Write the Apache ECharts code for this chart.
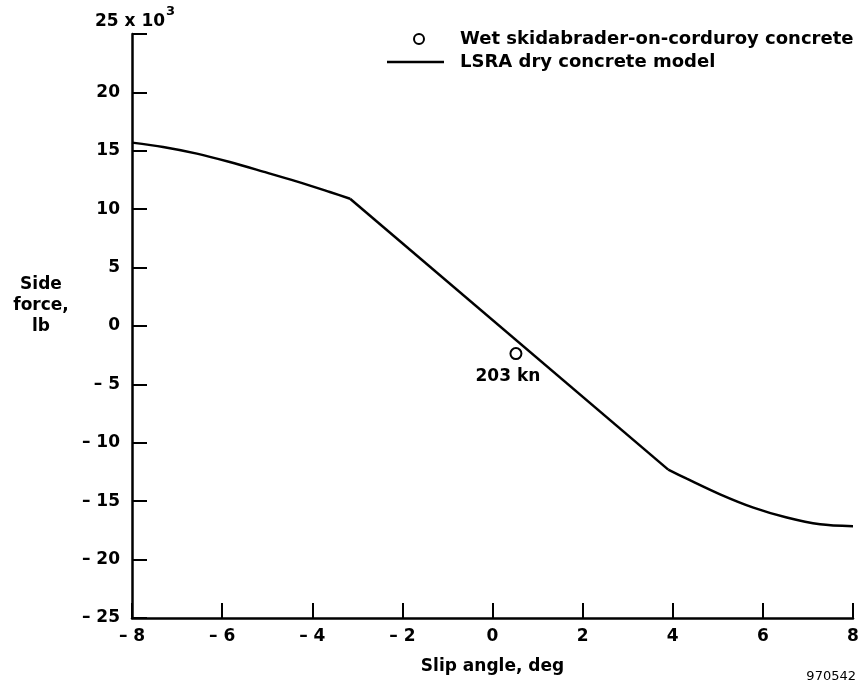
<!DOCTYPE html>
<html><head><meta charset="utf-8">
<script src="https://cdn.jsdelivr.net/npm/echarts@6/dist/echarts.min.js"></script>
<style>html,body{margin:0;padding:0;background:#fff}#c{width:864px;height:688px}</style>
</head><body><div id="c"></div>
<script>
// LSRA dry concrete model (slip angle deg, side force x10^3 lb)
const modelX = [-8, -7.31, -6.56, -5.83, -5.09, -4.35, -3.61, -3.16, 3.9, 4.31, 5.05, 5.79, 6.53, 7.27, 8];
const modelY = [15.7, 15.33, 14.76, 14.04, 13.22, 12.38, 11.47, 10.9, -12.3, -13.07, -14.41, -15.55, -16.4, -16.98, -17.15];
// Wet skidabrader-on-corduroy concrete
const wetX = [0.52];
const wetY = [-2.36];
const wetLabels = ['203 kn'];
const xTicks = [-8, -6, -4, -2, 0, 2, 4, 6, 8];
const yTicks = [-25, -20, -15, -10, -5, 0, 5, 10, 15, 20, 25];

const FONT = '"DejaVu Sans", sans-serif';
const FS = 17;
const fmt = v => v < 0 ? '\u2013 ' + Math.abs(v) : String(v);
const pts = modelX.map((x, i) => [x, modelY[i]]);
const lineCommon = {type: 'line', showSymbol: false, symbol: 'none', lineStyle: {color: '#000', width: 2.5}, z: 3};

const chart = echarts.init(document.getElementById('c'));
chart.setOption({
  animation: false,
  backgroundColor: '#fff',
  grid: {left: 132, right: 11, top: 34, bottom: 70, containLabel: false},
  xAxis: {
    type: 'value', min: xTicks[0], max: xTicks[xTicks.length-1], interval: 2,
    splitLine: {show: false},
    axisLine: {onZero: false, lineStyle: {color: '#000', width: 2.5}},
    axisTick: {inside: true, length: 15, lineStyle: {color: '#000', width: 2}},
    axisLabel: {color: '#000', fontFamily: FONT, fontWeight: 'bold', fontSize: FS, margin: 10, formatter: fmt},
    name: 'Slip angle, deg', nameLocation: 'middle', nameGap: 40,
    nameTextStyle: {color: '#000', fontFamily: FONT, fontWeight: 'bold', fontSize: FS}
  },
  yAxis: {
    type: 'value', min: yTicks[0], max: yTicks[yTicks.length-1], interval: 5,
    splitLine: {show: false},
    axisLine: {onZero: false, lineStyle: {color: '#000', width: 2.5}},
    axisTick: {inside: true, length: 15, lineStyle: {color: '#000', width: 2}},
    axisLabel: {color: '#000', fontFamily: FONT, fontWeight: 'bold', fontSize: FS, margin: 12,
      formatter: v => v === 25 ? '' : fmt(v)}
  },
  series: [
    Object.assign({}, lineCommon, {data: pts.slice(0, 8), smooth: 0.3}),
    Object.assign({}, lineCommon, {data: pts.slice(7, 9)}),
    Object.assign({}, lineCommon, {data: pts.slice(8), smooth: 0.3}),
    {type: 'scatter', data: wetX.map((x, i) => ({value: [x, wetY[i]], label: {formatter: wetLabels[i]}})),
     symbol: 'circle', symbolSize: 11,
     itemStyle: {color: '#fff', borderColor: '#000', borderWidth: 2, opacity: 1},
     label: {show: true, position: 'bottom', distance: 6, offset: [-8, 2], color: '#000', fontFamily: FONT, fontWeight: 'bold', fontSize: FS},
     z: 4}
  ],
  graphic: [
    {type: 'text', left: 95, top: 5, style: {
      text: '{a|25 x 10}{s|3}',
      rich: {
        a: {fontFamily: FONT, fontWeight: 'bold', fontSize: FS, fill: '#000', padding: [8, 0, 0, 0]},
        s: {fontFamily: FONT, fontWeight: 'bold', fontSize: 13, fill: '#000', verticalAlign: 'top', padding: [0, 0, 0, 1]}
      }}},
    {type: 'text', x: 41, y: 306, style: {
      text: 'Side\nforce,\nlb', fontFamily: FONT, fontWeight: 'bold', fontSize: FS, fill: '#000',
      align: 'center', verticalAlign: 'middle', lineHeight: 21}},
    {type: 'circle', shape: {cx: 419, cy: 39, r: 5}, style: {fill: '#fff', stroke: '#000', lineWidth: 2}},
    {type: 'text', x: 460, y: 39, style: {text: 'Wet skidabrader-on-corduroy concrete', fontFamily: FONT, fontWeight: 'bold', fontSize: 18, fill: '#000', verticalAlign: 'middle'}},
    {type: 'line', shape: {x1: 387, y1: 62, x2: 444, y2: 62}, style: {stroke: '#000', lineWidth: 2.5}},
    {type: 'text', x: 460, y: 62, style: {text: 'LSRA dry concrete model', fontFamily: FONT, fontWeight: 'bold', fontSize: 18, fill: '#000', verticalAlign: 'middle'}},
    {type: 'text', x: 856, y: 677, style: {text: '970542', fontFamily: FONT, fontSize: 13, fill: '#000', align: 'right', verticalAlign: 'middle'}}
  ]
});
</script></body></html>
